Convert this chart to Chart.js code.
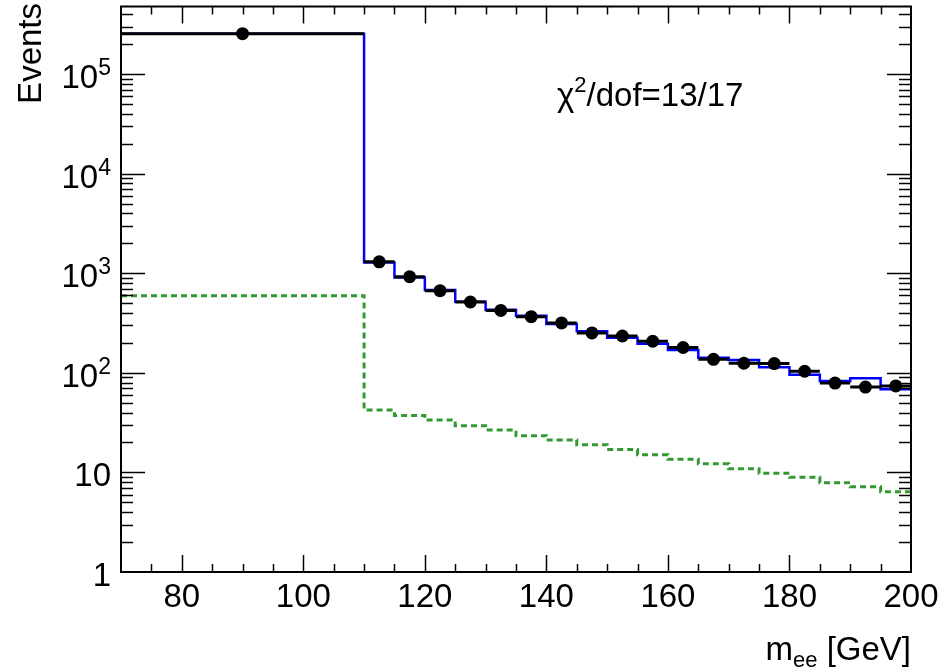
<!DOCTYPE html>
<html><head><meta charset="utf-8">
<script src="https://cdn.jsdelivr.net/npm/chart.js@4.4.0/dist/chart.umd.min.js"></script>
<style>html,body{margin:0;padding:0;background:#fff}#wrap{width:941px;height:670px}</style>
</head><body><div id="wrap"><canvas id="c" width="941" height="670"></canvas></div>
<script>
// ---- data ----
const binEdges = [70,110,115,120,125,130,135,140,145,150,155,160,165,170,175,180,185,190,195,200];
const dataCounts = [256000,1307,925,670,516,425,367,318,252,235,208,180,137,125,124,104,79,72,74];
const fitCounts  = [256000,1290,910,680,520,430,376,311,262,225,196,170,142,135,114,96,83,88.5,68.7];
const bkgCounts  = [597,42.3,37.3,33.6,29.5,26.7,23.4,21.2,19.0,17.0,15.1,13.6,12.2,10.9,9.8,8.95,7.9,7.2,6.4];
const xTickValues = [80,100,120,140,160,180,200];
const xTickLabels = ['80','100','120','140','160','180','200'];
const yTickValues = [1,10,100,1000,10000,100000];
const yTickBase   = ['1','10','10','10','10','10'];
const yTickExp    = ['','','2','3','4','5'];
const xMinorStep = 5;
const xTitleMain = 'm', xTitleSub = 'ee', xTitleRest = ' [GeV]';
const yTitle = 'Events';
const chiMain = 'χ', chiSup = '2', chiRest = '/dof=13/17';

const FONT = '"Liberation Sans", Arial, Helvetica, sans-serif';

// build chart tables from the arrays
const centers = dataCounts.map((v,i)=>(binEdges[i]+binEdges[i+1])/2);
const dataPoints = dataCounts.map((v,i)=>({x:centers[i], y:v}));
const dataBars = [];
dataCounts.forEach((v,i)=>{ dataBars.push({x:binEdges[i],y:v},{x:binEdges[i+1],y:v},{x:binEdges[i+1],y:null}); });
function steps(arr){ const out=[]; arr.forEach((v,i)=>{ out.push({x:binEdges[i],y:v},{x:binEdges[i+1],y:v}); }); return out; }

const rootAxes = {
  id:'rootAxes',
  afterDatasetsDraw(chart){
    const {ctx, chartArea:a, scales:{x,y}} = chart;
    ctx.save();
    ctx.strokeStyle='#000'; ctx.fillStyle='#000';
    const seg=(x1,y1,x2,y2)=>{ctx.beginPath();ctx.moveTo(x1,y1);ctx.lineTo(x2,y2);ctx.stroke();};
    // ticks
    ctx.lineWidth=1.5;
    for(let v=x.min+xMinorStep; v<x.max; v+=xMinorStep){
      const px=Math.round(x.getPixelForValue(v))+0.5;
      const len = xTickValues.includes(v)?17:8;
      seg(px,a.bottom,px,a.bottom-len); seg(px,a.top,px,a.top+len);
    }
    for(let d=1; d<=y.max; d*=10){
      for(let m=1;m<=9;m++){
        const v=m*d; if(v<=y.min||v>=y.max) continue;
        const py=Math.round(y.getPixelForValue(v))+0.5;
        const len = m===1?24:12;
        seg(a.left,py,a.left+len,py); seg(a.right,py,a.right-len,py);
      }
    }
    // frame
    ctx.lineWidth=2;
    ctx.strokeRect(a.left, a.top, a.right-a.left, a.bottom-a.top);
    // x tick labels
    ctx.font='33px '+FONT; ctx.textAlign='center'; ctx.textBaseline='alphabetic';
    xTickValues.forEach((v,i)=>ctx.fillText(xTickLabels[i], x.getPixelForValue(v), 607));
    // y tick labels
    const rightEdge=111;
    yTickValues.forEach((v,i)=>{
      const py=y.getPixelForValue(v);
      ctx.font='33px '+FONT;
      const bw=ctx.measureText(yTickBase[i]).width;
      ctx.font='23px '+FONT;
      const ew=yTickExp[i]?ctx.measureText(yTickExp[i]).width:0;
      const x0=rightEdge-bw-ew;
      ctx.textAlign='left';
      ctx.font='33px '+FONT; ctx.textBaseline='alphabetic';
      ctx.fillText(yTickBase[i], x0, py+14);
      if(yTickExp[i]){ ctx.font='23px '+FONT; ctx.fillText(yTickExp[i], x0+bw, py+1); }
    });
    // y title
    ctx.save();
    ctx.translate(41,3); ctx.rotate(-Math.PI/2);
    ctx.font='33px '+FONT; ctx.textAlign='right'; ctx.textBaseline='alphabetic';
    ctx.fillText(yTitle,0,0);
    ctx.restore();
    // x title
    ctx.textAlign='left';
    ctx.font='33px '+FONT; const wm=ctx.measureText(xTitleMain).width, wr=ctx.measureText(xTitleRest).width;
    ctx.font='22px '+FONT; const ws=ctx.measureText(xTitleSub).width;
    let xs=a.right-wm-ws-wr;
    ctx.font='33px '+FONT; ctx.fillText(xTitleMain,xs,660); xs+=wm;
    ctx.font='22px '+FONT; ctx.fillText(xTitleSub,xs,667); xs+=ws;
    ctx.font='33px '+FONT; ctx.fillText(xTitleRest,xs,660);
    // chi2 annotation
    let cx=557;
    ctx.font='33px '+FONT; ctx.fillText(chiMain,cx,106); cx+=ctx.measureText(chiMain).width;
    ctx.font='22px '+FONT; ctx.fillText(chiSup,cx,92); cx+=ctx.measureText(chiSup).width;
    ctx.font='33px '+FONT; ctx.fillText(chiRest,cx,106);
    ctx.restore();
  }
};

new Chart(document.getElementById('c'), {
  type:'line',
  data:{datasets:[
    {label:'Data', type:'scatter', data:dataPoints, showLine:false, pointRadius:6.5, pointHoverRadius:6.5,
     pointBackgroundColor:'#000', pointBorderColor:'#000', pointBorderWidth:0},
    {label:'Data bins', data:dataBars, borderColor:'#000', borderWidth:3, pointRadius:0, spanGaps:false, borderCapStyle:'butt'},
    {label:'Fit', data:steps(fitCounts), borderColor:'#0000ff', borderWidth:2.5, pointRadius:0, borderJoinStyle:'miter'},
    {label:'Background', data:steps(bkgCounts), borderColor:'#339933', borderWidth:3, borderDash:[6,4], pointRadius:0, borderJoinStyle:'miter'}
  ]},
  options:{
    responsive:false, animation:false, devicePixelRatio:1,
    layout:{padding:{left:0,right:30,top:5,bottom:0}},
    elements:{line:{tension:0}},
    plugins:{legend:{display:false}, tooltip:{enabled:false}},
    scales:{
      x:{type:'linear', min:70, max:200, grid:{display:false}, border:{display:false}, ticks:{display:false},
         afterFit(s){ s.height=98; }},
      y:{type:'logarithmic', min:1, max:4.8e5, grid:{display:false}, border:{display:false}, ticks:{display:false},
         afterFit(s){ s.width=121; }}
    }
  },
  plugins:[rootAxes]
});
</script></body></html>
